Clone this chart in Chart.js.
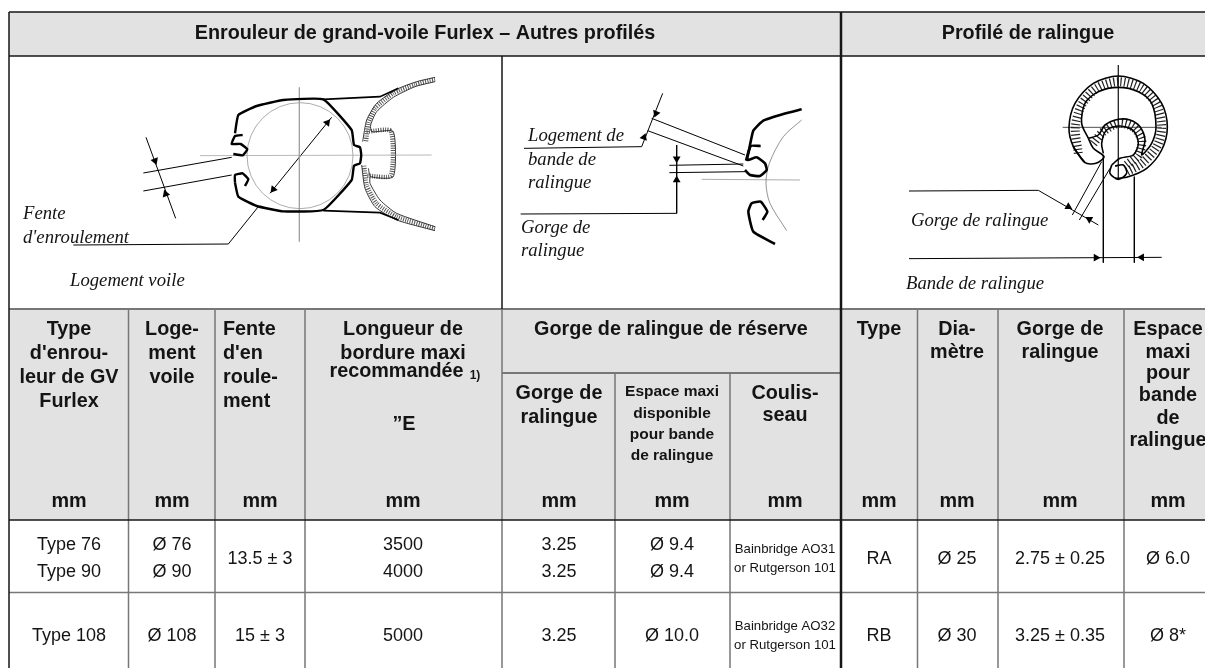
<!DOCTYPE html>
<html>
<head>
<meta charset="utf-8">
<title>Enrouleur de grand-voile Furlex</title>
<script src="https://cdn.jsdelivr.net/npm/chart.js@4"></script>
<style>
  html, body { margin: 0; padding: 0; background: #fff; overflow: hidden; }
  canvas { display: block; }
</style>
</head>
<body>
<canvas id="tableau" width="1205" height="668"></canvas>
<script>
// Valeurs du tableau
const typeGV = ["Type 76", "Type 90", "Type 108"];
const logementVoile = ["Ø 76", "Ø 90", "Ø 108"];
const fenteEnroulement = ["13.5 ± 3", "15 ± 3"];
const longueurBordure = ["3500", "4000", "5000"];
const gorgeReserve = ["3.25", "3.25", "3.25"];
const espaceReserve = ["Ø 9.4", "Ø 9.4", "Ø 10.0"];
const coulisseau = ["Bainbridge AO31", "or Rutgerson 101", "Bainbridge AO32", "or Rutgerson 101"];
const typeRalingue = ["RA", "RB"];
const diametre = ["Ø 25", "Ø 30"];
const gorgeRalingue = ["2.75 ± 0.25", "3.25 ± 0.35"];
const espaceBande = ["Ø 6.0", "Ø 8*"];

// Trame du tableau (pixels de l'image)
const colX = [9, 128.5, 215, 305, 502, 615, 730, 841, 917.5, 998, 1124, 1205];
const rowY = [12, 56, 309, 373, 520, 592.5, 668];

// Dessins techniques, en unites du dessin (3 unites = 1 px)
const d1 = {
  ox: 0, oy: 0,
  profilHaut: [[705,400],[715,345],[770,318],[850,300],[970,298],[1055,390],[1062,435],[1080,442],[1084,465]],
  profilBas: [[1084,465],[1080,490],[1062,497],[1055,540],[970,630],[850,634],[770,618],[715,590],[705,548]],
  crochetHaut: [[728,405],[705,408],[695,432],[722,432],[742,448],[728,466],[700,462]],
  crochetBas: [[735,558],[745,538],[728,520],[705,525],[705,548]],
  bordHaut: [[970,298],[1140,290],[1195,265]],
  bordBas: [[970,632],[1140,638],[1195,660]],
  traits: [
    [[600,467],[1295,465]], [[898,262],[898,725]]
  ],
  cotes: [
    [[810,580],[995,352]], [[220,735],[685,732],[775,620]],
    [[430,519],[695,472]], [[430,573],[695,525]], [[438,412],[527,655]]
  ],
  contours: [
    [[1305,232],[1250,245],[1190,268],[1130,310],[1100,360],[1088,425]],
    [[1305,245],[1245,260],[1180,292],[1130,335],[1112,375],[1115,395],[1180,395],[1180,530],[1112,530],[1105,505]],
    [[1305,692],[1190,660],[1125,620],[1095,565],[1085,495]],
    [[1305,680],[1190,640],[1140,600],[1110,550],[1110,530]]
  ],
  hachures: [
    [[1305,238],[1245,253],[1180,280],[1125,325],[1105,370],[1098,425]],
    [[1305,686],[1190,650],[1130,610],[1100,555],[1092,495]],
    [[1100,395],[1172,393],[1172,527],[1100,527]]
  ],
  fleches: [[465,482,160],[497,582,340],[982,368,39],[820,568,219]],
  cercle: [[900,467,53]]
};
const d2 = {
  ox: 500, oy: 40,
  profil: [[905,208],[850,222],[790,242],[760,272],[748,325],[738,362]],
  crochetHaut: [[782,318],[752,318],[742,360],[770,352],[795,370],[800,390],[780,408],[750,405],[735,390]],
  crochetBas: [[788,540],[802,515],[782,485],[755,490],[745,515],[760,575],[825,612]],
  arc: [[905,240],[850,290],[808,370],[798,430],[810,490],[860,572]],
  traits: [[[605,418],[900,420]]],
  cotes: [
    [[455,235],[735,345]], [[443,272],[730,378]],
    [[488,160],[425,320],[72,325]],
    [[508,376],[730,372]], [[508,398],[735,395]],
    [[530,315],[530,520],[62,522]]
  ],
  fleches: [[468,220,201],[432,292,21],[530,356,180],[530,420,0]]
};
const d3 = {
  ox: 840, oy: 40,
  cercleExt: [[735,368],[700,320],[687,262],[705,190],[760,130],[835,108],[910,130],[965,190],[982,262],[965,330],[920,385],[860,412],[825,415]],
  cercleInt: [[745,295],[725,250],[735,190],[775,155],[835,142],[895,155],[935,190],[948,262],[935,310],[905,345],[915,300],[900,260],[870,240],[835,238],[795,255],[775,285],[745,295]],
  gorge: [[790,340],[785,310],[800,270],[840,258],[880,272],[895,310],[880,345],[840,355],[815,375]],
  levreG: [[700,320],[735,368],[768,370],[792,350],[760,325],[745,295]],
  levreD: [[815,375],[810,400],[835,418],[860,400],[850,375],[825,378]],
  traits: [[[835,75],[835,420]], [[668,262],[965,262]]],
  cotes: [
    [[207,453],[595,451],[775,555]],
    [[697,525],[785,365]], [[718,540],[810,385]],
    [[207,656],[965,652]],
    [[790,345],[790,668]], [[883,410],[883,668]]
  ],
  hachures: [
    [[715,340],[706,262],[725,195],[770,145],[835,125],[905,145],[950,195],[965,262],[950,320],[905,370],[860,395]],
    [[760,310],[790,275],[835,250],[880,262],[905,300],[895,345],[860,375]]
  ],
  fleches: [[685,500,120],[748,538,300],[768,653,90],[905,652,270]]
};

const NOIR = "#161616";
const GRIS = "#777777";

function pts(d, list) {
  return list.map(p => ({ x: d.ox + p[0] / 3, y: d.oy + p[1] / 3 }));
}

function ligne(data, couleur, largeur, extra) {
  return Object.assign({
    type: "line", data: data, borderColor: couleur, borderWidth: largeur,
    pointRadius: 0, fill: false, tension: 0, borderCapStyle: "butt"
  }, extra || {});
}

function segment(x0, y0, x1, y1, couleur, largeur) {
  return ligne([{ x: x0, y: y0 }, { x: x1, y: y1 }], couleur, largeur);
}

function fond(x0, x1, y0, y1) {
  return ligne([{ x: x0, y: y1 }, { x: x1, y: y1 }], "rgba(0,0,0,0)", 0,
    { fill: { value: y0 }, backgroundColor: "#e2e2e2" });
}

function fleches(d) {
  return {
    type: "scatter", showLine: false,
    data: d.fleches.map(f => ({ x: d.ox + f[0] / 3, y: d.oy + f[1] / 3 })),
    pointStyle: "triangle", pointRadius: 4.5,
    pointRotation: d.fleches.map(f => f[2]),
    pointBackgroundColor: "#000", pointBorderWidth: 0
  };
}

const datasets = [];

// Lignes du tableau
const [x0, x1, x2, x3, x4, x5, x6, x7, x8, x9, x10, x11] = colX;
const [y0, y1, y2, y3, y4, y5, y6] = rowY;
datasets.push(segment(x7, y0, x7, y6, NOIR, 2.5));
datasets.push(segment(x0, y0, x0, y6, NOIR, 1.5));
datasets.push(segment(x0, y0, x11, y0, NOIR, 1.5));
datasets.push(segment(x0, y1, x11, y1, NOIR, 1.5));
datasets.push(segment(x4, y1, x4, y2, NOIR, 1.5));
datasets.push(segment(x0, y2, x11, y2, GRIS, 2));
datasets.push(segment(x0, y4, x11, y4, NOIR, 1.5));
datasets.push(segment(x0, y5, x11, y5, GRIS, 1.5));
datasets.push(segment(x4, y3, x7, y3, GRIS, 2));
[x1, x2, x3, x4, x8, x9, x10].forEach(x => datasets.push(segment(x, y2, x, y6, GRIS, 1.5)));
[x5, x6].forEach(x => datasets.push(segment(x, y3, x, y6, GRIS, 1.5)));

// Dessin 1
[d1.profilHaut, d1.profilBas, d1.crochetHaut, d1.crochetBas].forEach(l =>
  datasets.push(ligne(pts(d1, l), "#000", 2.4, { tension: 0.12 })));
[d1.bordHaut, d1.bordBas].forEach(l => datasets.push(ligne(pts(d1, l), "#000", 1.6)));
d1.traits.forEach(l => datasets.push(ligne(pts(d1, l), "#999", 0.7)));
d1.cotes.forEach(l => datasets.push(ligne(pts(d1, l), "#000", 1)));
d1.contours.forEach(l => datasets.push(ligne(pts(d1, l), "#222", 0.9, { tension: 0.2 })));
d1.hachures.forEach(l => datasets.push(ligne(pts(d1, l), "#555", 4.5, { tension: 0.2, borderDash: [1, 1.3] })));
datasets.push(fleches(d1));
datasets.push({
  type: "bubble",
  data: d1.cercle.map(c => ({ x: c[0] / 3, y: 467 / 3, r: c[2] })),
  backgroundColor: "rgba(0,0,0,0)", borderColor: "#888", borderWidth: 0.7
});

// Dessin 2
[d2.profil, d2.crochetHaut, d2.crochetBas].forEach(l =>
  datasets.push(ligne(pts(d2, l), "#000", 2.6, { tension: 0.15 })));
datasets.push(ligne(pts(d2, d2.arc), "#666", 0.7, { tension: 0.3 }));
d2.traits.forEach(l => datasets.push(ligne(pts(d2, l), "#888", 0.7)));
d2.cotes.forEach(l => datasets.push(ligne(pts(d2, l), "#000", 1)));
datasets.push(fleches(d2));

// Dessin 3
[d3.cercleExt, d3.cercleInt, d3.gorge, d3.levreG, d3.levreD].forEach(l =>
  datasets.push(ligne(pts(d3, l), "#000", 1.6, { tension: 0.3 })));
d3.traits.forEach(l => datasets.push(ligne(pts(d3, l), "#222", 0.8)));
d3.cotes.forEach(l => datasets.push(ligne(pts(d3, l), "#000", 1)));
d3.hachures.forEach(l => datasets.push(ligne(pts(d3, l), "#222", 9, { tension: 0.3, borderDash: [1.2, 2.4] })));
datasets.push(fleches(d3));

// Fonds gris, dessines en dernier donc sous le reste
datasets.push(fond(x0, x11, y0, y1));
datasets.push(fond(x0, x11, y2, y4));

// Textes
const GRAS = 'bold 19.8px "Liberation Sans"';
const NORMAL = '18px "Liberation Sans"';
const PETIT = 'bold 15.5px "Liberation Sans"';
const MINI = '13.2px "Liberation Sans"';
const ITALIQUE = 'italic 18.7px "Liberation Serif"';

const textes = [
  ["Enrouleur de grand-voile Furlex – Autres profilés", 425, 32, "center", GRAS],
  ["Profilé de ralingue", 1028, 32, "center", GRAS],

  ["Fente", 23, 213, "left", ITALIQUE],
  ["d'enroulement", 23, 237, "left", ITALIQUE],
  ["Logement voile", 70, 280, "left", ITALIQUE],
  ["Logement de", 528, 135, "left", ITALIQUE],
  ["bande de", 528, 159, "left", ITALIQUE],
  ["ralingue", 528, 182, "left", ITALIQUE],
  ["Gorge de", 521, 227, "left", ITALIQUE],
  ["ralingue", 521, 250, "left", ITALIQUE],
  ["Gorge de ralingue", 911, 220, "left", ITALIQUE],
  ["Bande de ralingue", 906, 283, "left", ITALIQUE],

  ["Type", 69, 328, "center", GRAS],
  ["d'enrou-", 69, 352, "center", GRAS],
  ["leur de GV", 69, 376, "center", GRAS],
  ["Furlex", 69, 400, "center", GRAS],
  ["Loge-", 172, 328, "center", GRAS],
  ["ment", 172, 352, "center", GRAS],
  ["voile", 172, 376, "center", GRAS],
  ["Fente", 223, 328, "left", GRAS],
  ["d'en", 223, 352, "left", GRAS],
  ["roule-", 223, 376, "left", GRAS],
  ["ment", 223, 400, "left", GRAS],
  ["Longueur de", 403, 328, "center", GRAS],
  ["bordure maxi", 403, 352, "center", GRAS],
  ["recommandée", 396.5, 370, "center", GRAS],
  ["1)", 475, 374, "center", 'bold 12px "Liberation Sans"'],
  ["”E", 404, 423, "center", GRAS],
  ["Gorge de ralingue de réserve", 671, 328, "center", GRAS],
  ["Gorge de", 559, 392, "center", GRAS],
  ["ralingue", 559, 416, "center", GRAS],
  ["Espace maxi", 672, 390, "center", PETIT],
  ["disponible", 672, 412, "center", PETIT],
  ["pour bande", 672, 433, "center", PETIT],
  ["de ralingue", 672, 454, "center", PETIT],
  ["Coulis-", 785, 392, "center", GRAS],
  ["seau", 785, 414, "center", GRAS],
  ["Type", 879, 328, "center", GRAS],
  ["Dia-", 957, 328, "center", GRAS],
  ["mètre", 957, 351, "center", GRAS],
  ["Gorge de", 1060, 328, "center", GRAS],
  ["ralingue", 1060, 351, "center", GRAS],
  ["Espace", 1168, 328, "center", GRAS],
  ["maxi", 1168, 351, "center", GRAS],
  ["pour", 1168, 372, "center", GRAS],
  ["bande", 1168, 394, "center", GRAS],
  ["de", 1168, 417, "center", GRAS],
  ["ralingue", 1168, 439, "center", GRAS]
];

[69, 172, 260, 403, 559, 672, 785, 879, 957, 1060, 1168].forEach(x =>
  textes.push(["mm", x, 500, "center", GRAS]));

// Lignes de valeurs : deux lignes pour le premier groupe, une pour le second
const ligneY = [544, 571, 635];
const groupeY = [558, 635];
[[typeGV, 69], [logementVoile, 172], [longueurBordure, 403], [gorgeReserve, 559], [espaceReserve, 672]].forEach(([vals, x]) =>
  vals.forEach((v, i) => textes.push([v, x, ligneY[i], "center", NORMAL])));
[[fenteEnroulement, 260], [typeRalingue, 879], [diametre, 957], [gorgeRalingue, 1060], [espaceBande, 1168]].forEach(([vals, x]) =>
  vals.forEach((v, i) => textes.push([v, x, groupeY[i], "center", NORMAL])));
const coulisseauY = [548, 567, 625, 644];
coulisseau.forEach((v, i) => textes.push([v, 785, coulisseauY[i], "center", MINI]));

const textePlugin = {
  id: "textes",
  afterDatasetsDraw(chart) {
    const { ctx, scales } = chart;
    ctx.save();
    ctx.fillStyle = "#141414";
    ctx.textBaseline = "middle";
    textes.forEach(([t, x, y, align, font]) => {
      ctx.font = font;
      ctx.textAlign = align;
      ctx.fillText(t, scales.x.getPixelForValue(x), scales.y.getPixelForValue(y) + 1.5);
    });
    ctx.restore();
  }
};

new Chart(document.getElementById("tableau"), {
  type: "line",
  data: { datasets: datasets },
  plugins: [textePlugin],
  options: {
    responsive: false,
    animation: false,
    layout: { padding: 0, autoPadding: false },
    plugins: { legend: { display: false }, tooltip: { enabled: false }, title: { display: false } },
    scales: {
      x: { type: "linear", min: 0, max: 1205, display: false },
      y: { type: "linear", min: 0, max: 668, reverse: true, display: false }
    }
  }
});
</script>
</body>
</html>
